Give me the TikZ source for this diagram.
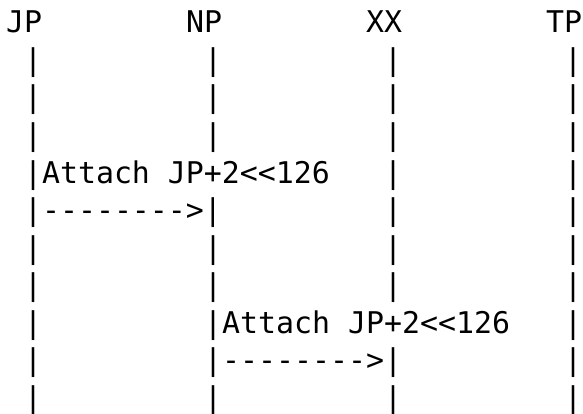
\documentclass[tikz,border=0pt]{standalone}
\usepackage{fontspec}
\setmonofont{DejaVu Sans Mono}
\begin{document}
\begin{tikzpicture}[x=1pt,y=1pt,
  asc/.style={inner sep=0pt, outer sep=0pt, anchor=base west,
    font=\ttfamily\fontsize{29.9pt}{37.5pt}\selectfont, text=black}]
\useasboundingbox[fill=white] (0,0) rectangle (583,413);
\newcommand\asctxt[3]{\node[asc] (r#1c#2) at ({6+#2*18}, {380-#1*37.5}) {#3};}
% header
\asctxt{0}{0}{JP}
\asctxt{0}{10}{NP}
\asctxt{0}{20}{XX}
\asctxt{0}{30}{TP}
% plain lifeline rows
\foreach \r in {1,2,3,6,7,10}{
  \foreach \c in {1,11,21,31}{
    \asctxt{\r}{\c}{|}
  }
}
% first message
\asctxt{4}{1}{|Attach JP+2<<126}
\asctxt{4}{21}{|}
\asctxt{4}{31}{|}
\asctxt{5}{1}{|-------->|}
\asctxt{5}{21}{|}
\asctxt{5}{31}{|}
% second message
\asctxt{8}{1}{|}
\asctxt{8}{11}{|Attach JP+2<<126}
\asctxt{8}{31}{|}
\asctxt{9}{1}{|}
\asctxt{9}{11}{|-------->|}
\asctxt{9}{31}{|}
\end{tikzpicture}
\end{document}
